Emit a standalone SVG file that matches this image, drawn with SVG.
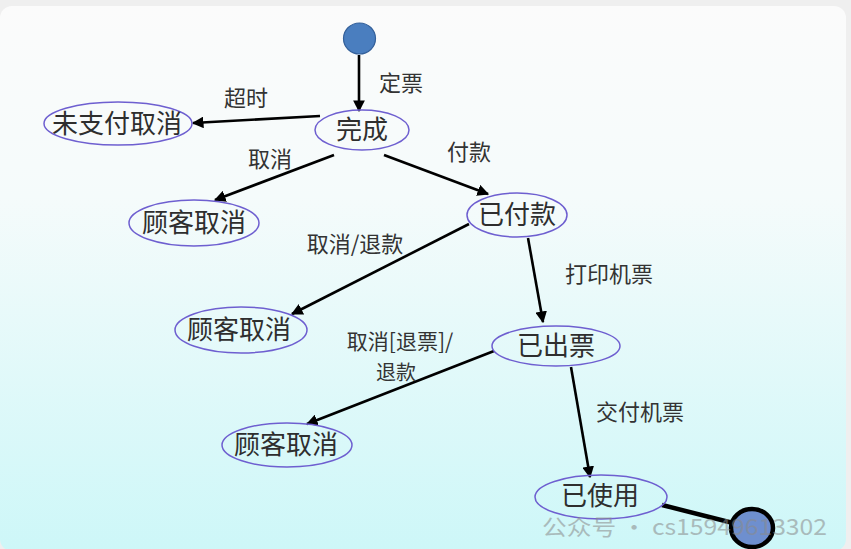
<svg xmlns="http://www.w3.org/2000/svg" width="851" height="549" viewBox="0 0 851 549">
<defs>
<linearGradient id="bg" x1="0" y1="0" x2="0" y2="1">
<stop offset="0" stop-color="#fbfbfb"/>
<stop offset="0.35" stop-color="#f5fbfb"/>
<stop offset="1" stop-color="#cdf7f8"/>
</linearGradient>
<marker id="ah" viewBox="0 0 10 10" refX="9" refY="5" markerWidth="4.5" markerHeight="4.5" orient="auto" markerUnits="strokeWidth">
<path d="M0,0 L10,5 L0,10 z" fill="#000"/>
</marker>
<style>
.st{fill:none;stroke:#6e5fd0;stroke-width:1.5}
.nt{font-family:"Noto Sans CJK SC","Noto Sans",sans-serif;font-size:26px;fill:#2e2e2e;text-anchor:middle}
.lb{font-family:"Noto Sans CJK SC","Noto Sans",sans-serif;font-size:22px;fill:#333;text-anchor:middle}
.ed{stroke:#000;stroke-width:2.6;fill:none;marker-end:url(#ah)}
</style>
</defs>
<rect x="0" y="0" width="851" height="549" fill="#efefef"/>
<rect x="0" y="6" width="846" height="545" rx="12" fill="url(#bg)"/>
<g id="connectors">
<line class="ed" x1="359" y1="55" x2="359" y2="111"/>
<line class="ed" x1="320" y1="116" x2="193" y2="123"/>
<line class="ed" x1="334" y1="155" x2="215" y2="200"/>
<line class="ed" x1="384" y1="155" x2="488" y2="194"/>
<line class="ed" x1="469" y1="224" x2="292" y2="314"/>
<line class="ed" x1="528" y1="238" x2="543" y2="322"/>
<line class="ed" x1="494" y1="351" x2="307" y2="424"/>
<line class="ed" x1="571" y1="367" x2="590" y2="477"/>
<line x1="662" y1="505" x2="733" y2="523" stroke="#000" stroke-width="4.5"/>
</g>
<g id="edge-labels">
<text class="lb" x="401" y="91">定票</text>
<text class="lb" x="246" y="106">超时</text>
<text class="lb" x="270" y="167">取消</text>
<text class="lb" x="469" y="160">付款</text>
<text class="lb" x="355" y="252">取消/退款</text>
<text class="lb" x="609" y="282">打印机票</text>
<text class="lb" x="400" y="349" style="font-size:21px">取消[退票]/</text>
<text class="lb" x="396" y="380" style="font-size:20px">退款</text>
<text class="lb" x="640" y="420">交付机票</text>
</g>
<g id="start"><ellipse cx="359.5" cy="38.5" rx="16" ry="15.5" fill="#4a7ebf" stroke="#34609a" stroke-width="1.2"/></g>
<g id="wancheng"><ellipse class="st" cx="362" cy="130" rx="47" ry="20"/><text class="nt" x="362" y="139">完成</text></g>
<g id="weizhifu"><ellipse class="st" cx="118" cy="123.5" rx="74" ry="21.5"/><text class="nt" x="117" y="133">未支付取消</text></g>
<g id="guke1"><ellipse class="st" cx="194" cy="223" rx="65" ry="23"/><text class="nt" x="194" y="232">顾客取消</text></g>
<g id="yifukuan"><ellipse class="st" cx="517" cy="215" rx="50" ry="22"/><text class="nt" x="517" y="224">已付款</text></g>
<g id="guke2"><ellipse class="st" cx="241" cy="330" rx="66" ry="23"/><text class="nt" x="239" y="339">顾客取消</text></g>
<g id="yichupiao"><ellipse class="st" cx="556" cy="346" rx="64" ry="20"/><text class="nt" x="556" y="355">已出票</text></g>
<g id="guke3"><ellipse class="st" cx="287" cy="445" rx="65" ry="22"/><text class="nt" x="286" y="454">顾客取消</text></g>
<g id="yishiyong"><ellipse class="st" cx="601" cy="497" rx="66" ry="22"/><text class="nt" x="600" y="505">已使用</text></g>
<g id="end"><ellipse cx="752" cy="528" rx="21" ry="19" fill="#6e8fcf" stroke="#000" stroke-width="4.5"/></g>
<g id="watermark" opacity="0.55">
<text x="542" y="535" font-family="'Noto Sans CJK SC','Noto Sans',sans-serif" font-size="22" fill="#8a8a8a" textLength="285" lengthAdjust="spacingAndGlyphs">公众号 · cs15949613302</text>
</g>
</svg>
